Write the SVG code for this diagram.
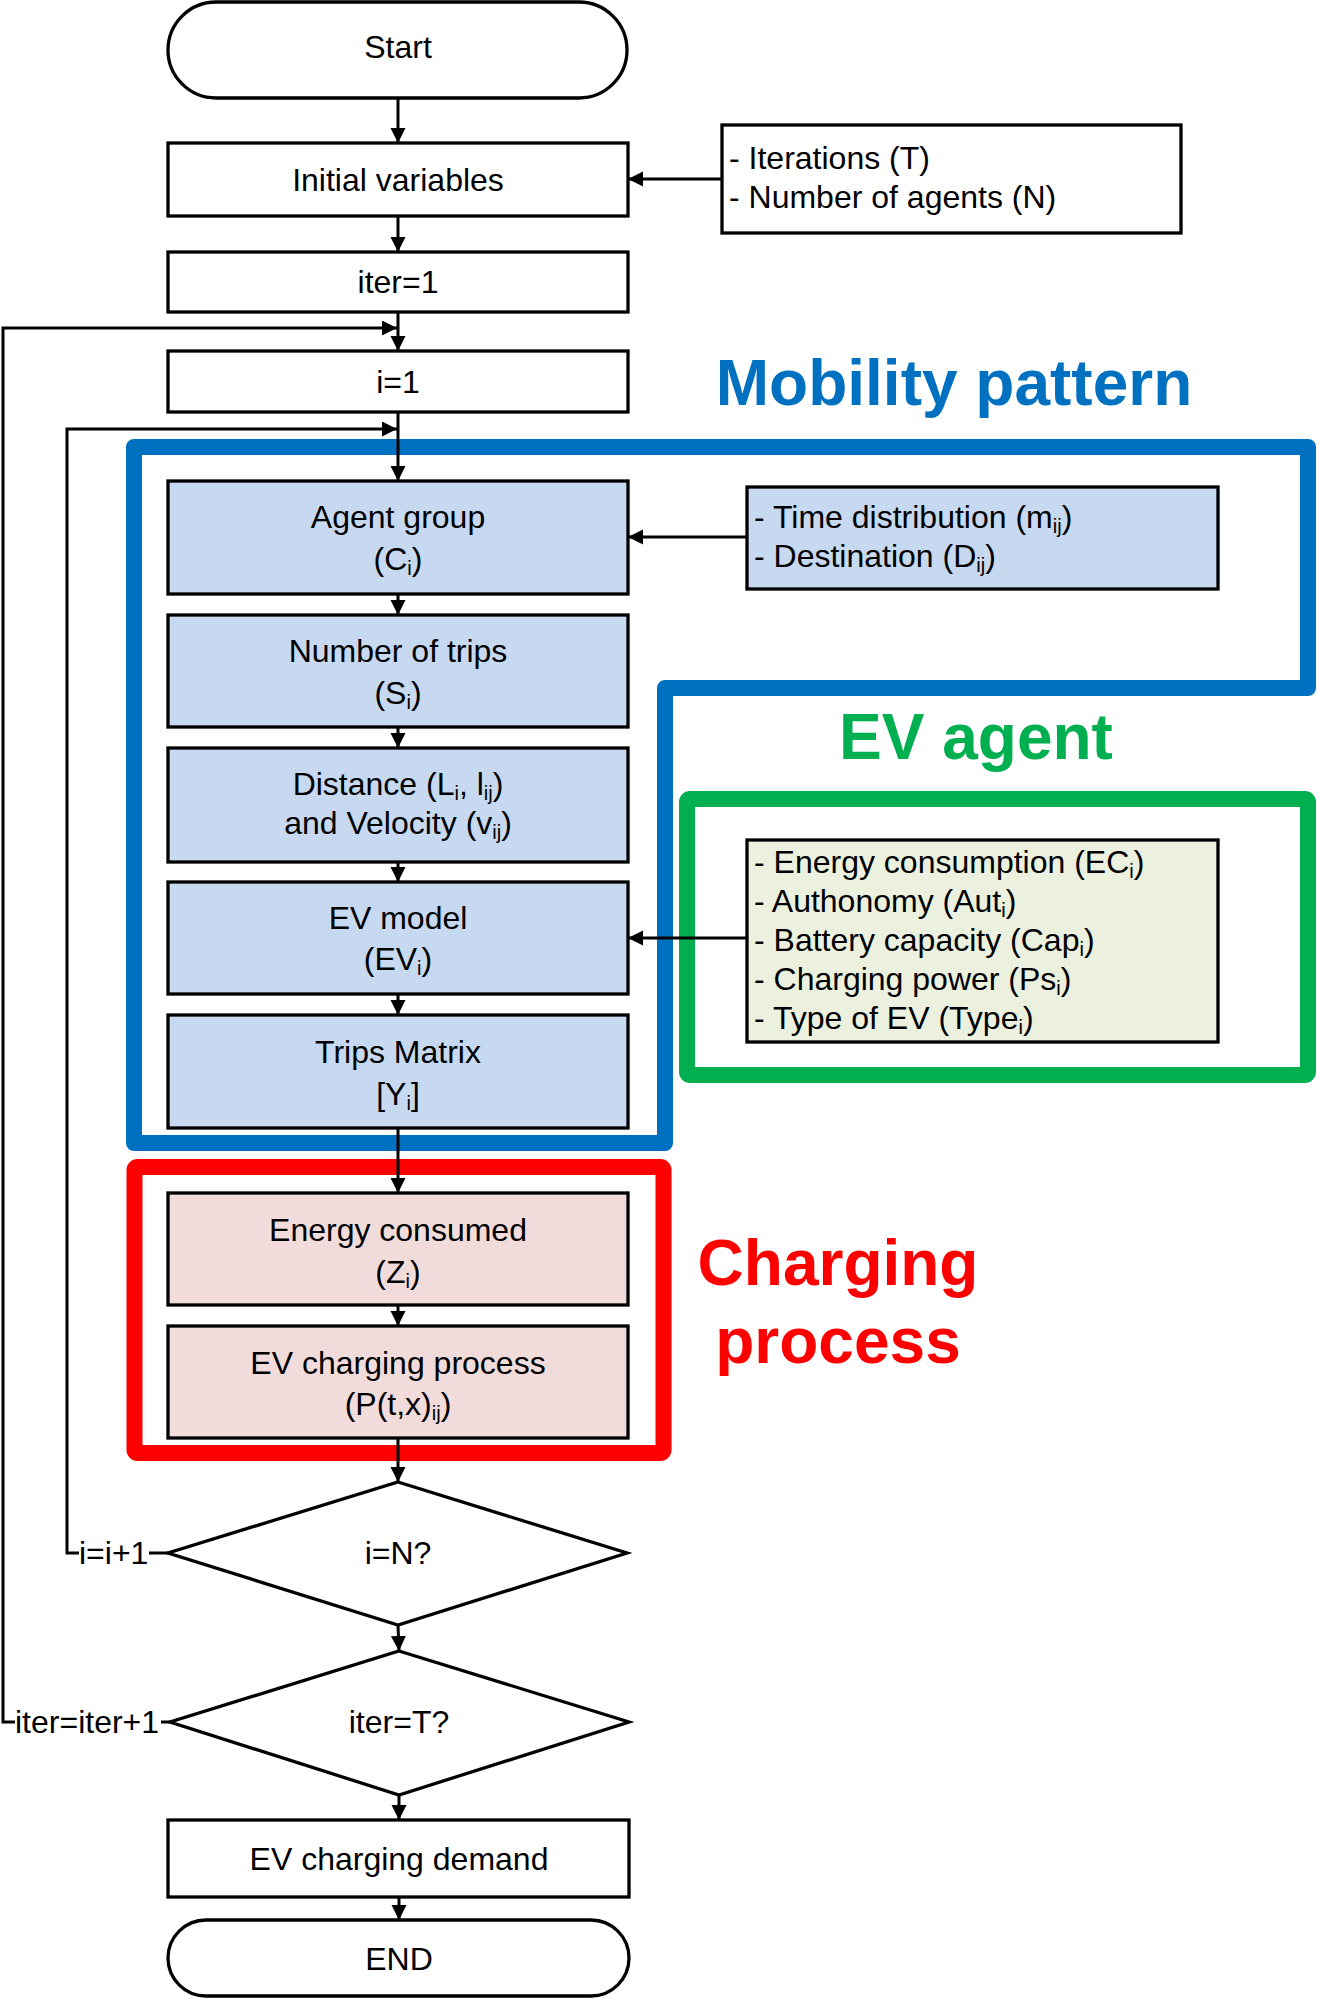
<svg xmlns="http://www.w3.org/2000/svg" width="1317" height="1999" viewBox="0 0 1317 1999">
<style>
  text { font-family: "Liberation Sans", Arial, sans-serif; fill: #000; }
  .t { font-size: 32px; }
  .c { text-anchor: middle; }
  .box { stroke: #000; stroke-width: 3.3; fill: #fff; }
  .blue { fill: #C6D9F0; }
  .pink { fill: #F2DCDB; }
  .lgreen { fill: #EBF1DE; }
  .conn { stroke: #000; stroke-width: 3; fill: none; }
  .head { font-size: 64px; font-weight: bold; text-anchor: middle; }
  .region { fill: none; stroke-width: 16; stroke-linejoin: round; }
</style>
<defs>
  <marker id="arr" markerUnits="userSpaceOnUse" markerWidth="16" markerHeight="16" refX="15" refY="7.5" orient="auto">
    <path d="M0,0 L15,7.5 L0,15 Z" fill="#000"/>
  </marker>
</defs>
<rect x="0" y="0" width="1317" height="1999" fill="#fff"/>

<g id="regions">
  <g id="region-mobility">
    <path class="region" stroke="#0070C0" d="M134,447 H1308 V688 H665 V1143 H134 Z"/>
    <text class="head" x="954" y="405" style="fill:#0070C0">Mobility pattern</text>
  </g>
  <g id="region-evagent">
    <rect class="region" stroke="#00B050" x="687" y="799" width="621" height="276" rx="3"/>
    <text class="head" x="976" y="759" style="fill:#00B050">EV agent</text>
  </g>
  <g id="region-charging">
    <rect class="region" stroke="#FF0000" x="134.5" y="1167" width="529" height="286" rx="3"/>
    <text class="head" x="838" y="1285" style="fill:#FF0000">Charging</text>
    <text class="head" x="838" y="1363" style="fill:#FF0000">process</text>
  </g>
</g>

<g id="nodes">
  <g id="start">
    <rect class="box" x="168" y="2" width="459" height="96" rx="48" ry="48"/>
    <text class="t c" x="398" y="58">Start</text>
  </g>
  <g id="initial-variables">
    <rect class="box" x="168" y="143" width="460" height="73"/>
    <text class="t c" x="398" y="191">Initial variables</text>
  </g>
  <g id="inputs">
    <rect class="box" x="722" y="125" width="459" height="108"/>
    <text class="t" x="729" y="169">- Iterations (T)</text>
    <text class="t" x="729" y="208">- Number of agents (N)</text>
  </g>
  <g id="iter1">
    <rect class="box" x="168" y="252" width="460" height="60"/>
    <text class="t c" x="398" y="293">iter=1</text>
  </g>
  <g id="i1">
    <rect class="box" x="168" y="351" width="460" height="61"/>
    <text class="t c" x="398" y="393">i=1</text>
  </g>
  <g id="agent-group">
    <rect class="box blue" x="168" y="481" width="460" height="113"/>
    <text class="t c" x="398" y="528">Agent group</text>
    <text class="t c" x="398" y="570">(C<tspan font-size="20" dy="5">i</tspan><tspan dy="-5">)</tspan></text>
  </g>
  <g id="mobility-inputs">
    <rect class="box blue" x="747" y="487" width="471" height="102"/>
    <text class="t" x="754" y="528">- Time distribution (m<tspan font-size="20" dy="5">ij</tspan><tspan dy="-5">)</tspan></text>
    <text class="t" x="754" y="567">- Destination (D<tspan font-size="20" dy="5">ij</tspan><tspan dy="-5">)</tspan></text>
  </g>
  <g id="number-of-trips">
    <rect class="box blue" x="168" y="615" width="460" height="112"/>
    <text class="t c" x="398" y="662">Number of trips</text>
    <text class="t c" x="398" y="704">(S<tspan font-size="20" dy="5">i</tspan><tspan dy="-5">)</tspan></text>
  </g>
  <g id="distance">
    <rect class="box blue" x="168" y="748" width="460" height="114"/>
    <text class="t c" x="398" y="795">Distance (L<tspan font-size="20" dy="5">i</tspan><tspan dy="-5">, l</tspan><tspan font-size="20" dy="5">ij</tspan><tspan dy="-5">)</tspan></text>
    <text class="t c" x="398" y="834">and Velocity (v<tspan font-size="20" dy="5">ij</tspan><tspan dy="-5">)</tspan></text>
  </g>
  <g id="ev-model">
    <rect class="box blue" x="168" y="882" width="460" height="112"/>
    <text class="t c" x="398" y="929">EV model</text>
    <text class="t c" x="398" y="970">(EV<tspan font-size="20" dy="5">i</tspan><tspan dy="-5">)</tspan></text>
  </g>
  <g id="ev-agent-inputs">
    <rect class="box lgreen" x="747" y="840" width="471" height="202"/>
    <text class="t" x="754" y="873">- Energy consumption (EC<tspan font-size="20" dy="5">i</tspan><tspan dy="-5">)</tspan></text>
    <text class="t" x="754" y="912">- Authonomy (Aut<tspan font-size="20" dy="5">i</tspan><tspan dy="-5">)</tspan></text>
    <text class="t" x="754" y="951">- Battery capacity (Cap<tspan font-size="20" dy="5">i</tspan><tspan dy="-5">)</tspan></text>
    <text class="t" x="754" y="990">- Charging power (Ps<tspan font-size="20" dy="5">i</tspan><tspan dy="-5">)</tspan></text>
    <text class="t" x="754" y="1029">- Type of EV (Type<tspan font-size="20" dy="5">i</tspan><tspan dy="-5">)</tspan></text>
  </g>
  <g id="trips-matrix">
    <rect class="box blue" x="168" y="1015" width="460" height="113"/>
    <text class="t c" x="398" y="1063">Trips Matrix</text>
    <text class="t c" x="398" y="1105">[Y<tspan font-size="20" dy="5">i</tspan><tspan dy="-5">]</tspan></text>
  </g>
  <g id="energy-consumed">
    <rect class="box pink" x="168" y="1193" width="460" height="112"/>
    <text class="t c" x="398" y="1241">Energy consumed</text>
    <text class="t c" x="398" y="1283">(Z<tspan font-size="20" dy="5">i</tspan><tspan dy="-5">)</tspan></text>
  </g>
  <g id="ev-charging-process">
    <rect class="box pink" x="168" y="1326" width="460" height="112"/>
    <text class="t c" x="398" y="1374">EV charging process</text>
    <text class="t c" x="398" y="1415">(P(t,x)<tspan font-size="20" dy="5">ij</tspan><tspan dy="-5">)</tspan></text>
  </g>
  <g id="decision-i">
    <polygon class="box" points="398,1482 627,1553 398,1625 168,1553"/>
    <text class="t c" x="398" y="1564">i=N?</text>
  </g>
  <g id="decision-iter">
    <polygon class="box" points="399,1651 629,1722 399,1795 170,1722"/>
    <text class="t c" x="399" y="1733">iter=T?</text>
  </g>
  <g id="ev-charging-demand">
    <rect class="box" x="168" y="1820" width="461" height="77"/>
    <text class="t c" x="399" y="1870">EV charging demand</text>
  </g>
  <g id="end">
    <rect class="box" x="168" y="1920" width="461" height="76" rx="38" ry="38"/>
    <text class="t c" x="399" y="1970">END</text>
  </g>
</g>

<g id="connectors">
  <line class="conn" x1="398" y1="98" x2="398" y2="143" marker-end="url(#arr)"/>
  <line class="conn" x1="722" y1="179" x2="628" y2="179" marker-end="url(#arr)"/>
  <line class="conn" x1="398" y1="216" x2="398" y2="252" marker-end="url(#arr)"/>
  <line class="conn" x1="398" y1="312" x2="398" y2="351" marker-end="url(#arr)"/>
  <line class="conn" x1="398" y1="412" x2="398" y2="481" marker-end="url(#arr)"/>
  <line class="conn" x1="747" y1="537" x2="628" y2="537" marker-end="url(#arr)"/>
  <line class="conn" x1="398" y1="594" x2="398" y2="615" marker-end="url(#arr)"/>
  <line class="conn" x1="398" y1="727" x2="398" y2="748" marker-end="url(#arr)"/>
  <line class="conn" x1="398" y1="862" x2="398" y2="882" marker-end="url(#arr)"/>
  <line class="conn" x1="747" y1="938" x2="628" y2="938" marker-end="url(#arr)"/>
  <line class="conn" x1="398" y1="994" x2="398" y2="1015" marker-end="url(#arr)"/>
  <line class="conn" x1="398" y1="1128" x2="398" y2="1193" marker-end="url(#arr)"/>
  <line class="conn" x1="398" y1="1305" x2="398" y2="1326" marker-end="url(#arr)"/>
  <line class="conn" x1="398" y1="1438" x2="398" y2="1482" marker-end="url(#arr)"/>
  <line class="conn" x1="398" y1="1625" x2="399" y2="1651" marker-end="url(#arr)"/>
  <line class="conn" x1="399" y1="1795" x2="399" y2="1820" marker-end="url(#arr)"/>
  <line class="conn" x1="399" y1="1897" x2="399" y2="1920" marker-end="url(#arr)"/>
  <!-- inner loop: i=i+1 -->
  <line class="conn" x1="168" y1="1553" x2="149" y2="1553"/>
  <text class="t" x="79" y="1564">i=i+1</text>
  <polyline class="conn" points="79,1553 67,1553 67,429 397,429" marker-end="url(#arr)"/>
  <!-- outer loop: iter=iter+1 -->
  <line class="conn" x1="170" y1="1722" x2="161" y2="1722"/>
  <text class="t" x="15" y="1733">iter=iter+1</text>
  <polyline class="conn" points="15,1722 3,1722 3,328 397,328" marker-end="url(#arr)"/>
</g>
</svg>
